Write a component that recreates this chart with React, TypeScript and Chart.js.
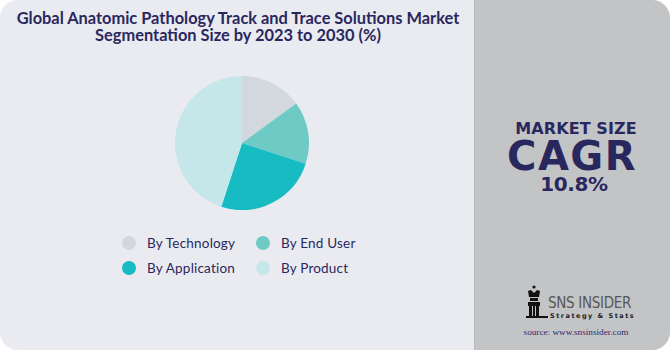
import React, { useEffect, useRef } from "react";
import { Chart, registerables } from "chart.js";

Chart.register(...registerables);

const TITLE_LINES = [
  "Global Anatomic Pathology Track and Trace Solutions Market",
  "Segmentation Size by 2023 to 2030 (%)",
];
const SEGMENTS = ["By Technology", "By End User", "By Application", "By Product"];
const SHARES = [15, 15, 25, 45];
const COLORS = ["#d3d8de", "#6ecac4", "#17bcc2", "#c5e7ea"];
const CAGR_LABEL = "MARKET SIZE";
const CAGR_TITLE = "CAGR";
const CAGR_VALUE = "10.8%";

const NAVY = "#29285e";

export default function App() {
  const canvasRef = useRef<HTMLCanvasElement | null>(null);

  useEffect(() => {
    document.body.style.margin = "0";
    const ctx = canvasRef.current;
    if (!ctx) return;
    const chart = new Chart(ctx, {
      type: "pie",
      data: {
        labels: SEGMENTS,
        datasets: [
          {
            data: SHARES,
            backgroundColor: COLORS,
            borderWidth: 0,
          },
        ],
      },
      options: {
        animation: false,
        responsive: false,
        maintainAspectRatio: false,
        layout: { padding: 0 },
        plugins: {
          legend: { display: false },
          tooltip: { enabled: false },
        },
      },
    });
    return () => chart.destroy();
  }, []);

  const legendPos = [
    { x: 122, y: 236 },
    { x: 256, y: 236 },
    { x: 122, y: 261 },
    { x: 256, y: 261 },
  ];

  const centered = (cx: number): React.CSSProperties => ({
    position: "absolute",
    left: cx,
    transform: "translateX(-50%)",
    whiteSpace: "nowrap",
  });

  return (
    <div
      style={{
        position: "fixed",
        left: 0,
        top: 0,
        width: 670,
        height: 350,
        background: "#ffffff",
        overflow: "hidden",
      }}
    >
      <div
        style={{
          position: "absolute",
          left: 0,
          top: 0,
          width: 670,
          height: 350,
          borderRadius: 18,
          overflow: "hidden",
          background: "#e9ebf0",
        }}
      >
        {/* title */}
        <div
          style={{
            position: "absolute",
            left: 0,
            top: 9,
            width: 476,
            textAlign: "center",
            fontFamily: "Lato, 'Noto Sans', sans-serif",
            fontWeight: 700,
            fontSize: 16.4,
            lineHeight: "17px",
            color: NAVY,
          }}
        >
          {TITLE_LINES.map((l, i) => (
            <div key={i}>{l}</div>
          ))}
        </div>

        <canvas
          ref={canvasRef}
          width={134}
          height={134}
          style={{ position: "absolute", left: 175, top: 76, width: 134, height: 134 }}
        />

        {SEGMENTS.map((s, i) => (
          <div
            key={s}
            style={{
              position: "absolute",
              left: legendPos[i].x,
              top: legendPos[i].y,
              height: 14,
              display: "flex",
              alignItems: "center",
              whiteSpace: "nowrap",
            }}
          >
            <span
              style={{
                display: "inline-block",
                width: 14,
                height: 14,
                borderRadius: 7,
                background: COLORS[i],
              }}
            />
            <span
              style={{
                marginLeft: 11,
                fontFamily: "Lato, 'Noto Sans', sans-serif",
                fontSize: 13.5,
                color: NAVY,
                letterSpacing: 0.2,
              }}
            >
              {s}
            </span>
          </div>
        ))}

        {/* right panel */}
        <div
          style={{
            position: "absolute",
            left: 474,
            top: 0,
            width: 196,
            height: 350,
            background: "#c3c4c6",
            borderLeft: "1px solid #b8b9bb",
            boxSizing: "border-box",
          }}
        >
          <div
            style={{
              ...centered(101),
              top: 120,
              color: NAVY,
              fontFamily: "'DejaVu Sans', sans-serif",
              fontWeight: 700,
              fontSize: 16,
              lineHeight: "17px",
              letterSpacing: 0.1,
            }}
          >
            {CAGR_LABEL}
          </div>
          <div
            style={{
              ...centered(97),
              top: 139,
              color: NAVY,
              fontFamily: "'DejaVu Sans', sans-serif",
              fontWeight: 700,
              fontSize: 40,
              lineHeight: "34px",
              letterSpacing: 1.5,
            }}
          >
            {CAGR_TITLE}
          </div>
          <div
            style={{
              ...centered(99),
              top: 174,
              color: NAVY,
              fontFamily: "'DejaVu Sans', sans-serif",
              fontWeight: 700,
              fontSize: 20,
              lineHeight: "20px",
              letterSpacing: -0.4,
            }}
          >
            {CAGR_VALUE}
          </div>

          {/* logo */}
          <svg
            style={{ position: "absolute", left: 50, top: 284 }}
            width={24}
            height={36}
            viewBox="0 0 24 36"
          >
            <circle cx={9} cy={3} r={1.6} fill="#111" />
            <path d="M3 7 L6 6 L9 9 L12 6 L15 7 L14 13 L4 13 Z" fill="#111" />
            <rect x={5} y={14} width={8} height={3} fill="#111" />
            <rect x={3} y={18} width={12} height={4} fill="#111" />
            <rect x={4} y={22} width={3} height={10} fill="#111" />
            <rect x={8} y={22} width={2} height={10} fill="#111" />
            <rect x={11} y={22} width={3} height={10} fill="#111" />
            <rect x={1} y={32} width={22} height={2} fill="#111" />
          </svg>
          <div
            style={{
              position: "absolute",
              left: 73,
              top: 295,
              fontFamily: "'DejaVu Sans Condensed', 'DejaVu Sans', sans-serif",
              fontSize: 15,
              lineHeight: "16px",
              color: "#575757",
              letterSpacing: -0.3,
              whiteSpace: "nowrap",
            }}
          >
            SNS INSIDER
          </div>
          <div
            style={{
              position: "absolute",
              left: 75,
              top: 312,
              fontFamily: "'DejaVu Sans', sans-serif",
              fontSize: 6.5,
              fontWeight: 700,
              lineHeight: "8px",
              color: "#222",
              letterSpacing: 1.5,
              whiteSpace: "nowrap",
            }}
          >
            Strategy &amp; Stats
          </div>
          <div
            style={{
              ...centered(101),
              top: 327,
              fontFamily: "'Liberation Serif', serif",
              fontSize: 9.2,
              lineHeight: "11px",
              color: "#2e2d6e",
            }}
          >
            source: www.snsinsider.com
          </div>
        </div>
      </div>
    </div>
  );
}
